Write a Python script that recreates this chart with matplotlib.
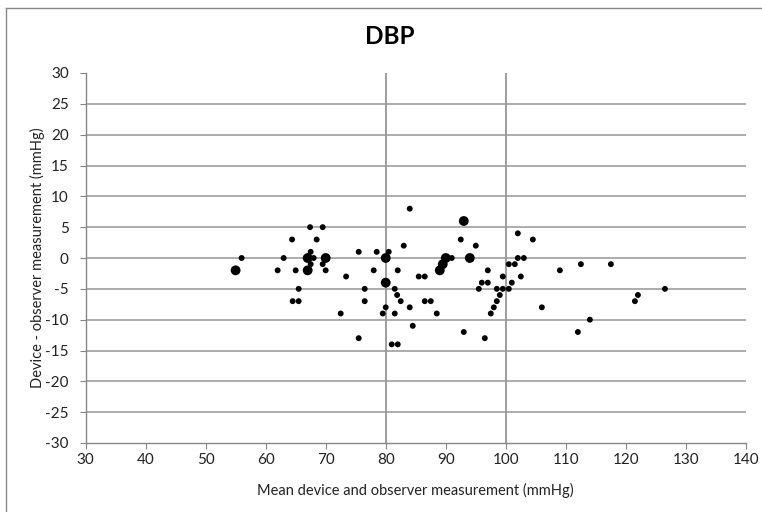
import matplotlib
matplotlib.use("Agg")
import matplotlib.pyplot as plt
from matplotlib.lines import Line2D

# Data: mean measurement (x), difference (y), overlap count (1 = single, 2 = larger dot)
mean_vals = [55, 56, 62, 63, 64.4, 65, 65.5, 64.5, 65.5, 67.4, 69.5, 68.5, 67.5, 67, 68,
             67, 67.5, 69.5, 70, 70, 73.4, 72.5, 75.5, 75.5, 76.5, 76.5, 78, 78.5, 80.5,
             80, 80, 81.5, 81.9, 82.5, 80, 79.5, 81.5, 81, 82, 82, 84, 83, 84, 84.5,
             85.5, 86.5, 86.5, 87.5, 88.5, 89, 89.5, 90, 91, 92.5, 93, 94, 95, 93, 96.5,
             97, 96, 97, 95.5, 97.5, 98, 98.5, 99, 98.5, 99.5, 100.5, 99.5, 101, 100.5,
             101.5, 102, 103, 102.5, 102, 104.5, 106, 109, 112.5, 117.5, 112, 114, 121.5,
             122, 126.5]
diff_vals = [-2, 0, -2, 0, 3, -2, -5, -7, -7, 5, 5, 3, 1, 0, 0,
             -2, -1, -1, 0, -2, -3, -9, -13, 1, -5, -7, -2, 1, 1,
             0, -4, -5, -6, -7, -8, -9, -9, -14, -14, -2, 8, 2, -8, -11,
             -3, -3, -7, -7, -9, -2, -1, 0, 0, 3, 6, 0, 2, -12, -13,
             -2, -4, -4, -5, -9, -8, -7, -6, -5, -5, -5, -3, -4, -1,
             -1, 0, 0, -3, 4, 3, -8, -2, -1, -1, -12, -10, -7,
             -6, -5]
counts = [2, 1, 1, 1, 1, 1, 1, 1, 1, 1, 1, 1, 1, 2, 1,
          2, 1, 1, 2, 1, 1, 1, 1, 1, 1, 1, 1, 1, 1,
          2, 2, 1, 1, 1, 1, 1, 1, 1, 1, 1, 1, 1, 1, 1,
          1, 1, 1, 1, 1, 2, 2, 2, 1, 1, 2, 2, 1, 1, 1,
          1, 1, 1, 1, 1, 1, 1, 1, 1, 1, 1, 1, 1, 1,
          1, 1, 1, 1, 1, 1, 1, 1, 1, 1, 1, 1, 1,
          1, 1]
ref_lines = [80, 100]
x_ticks = list(range(30, 141, 10))
y_ticks = list(range(-30, 31, 5))

plt.rcParams['font.family'] = ['Lato', 'DejaVu Sans']
plt.rcParams['axes.unicode_minus'] = False

fig = plt.figure(figsize=(7.62, 5.12), dpi=100)
ax = fig.add_axes([85.5 / 762, 1 - 443 / 512, (746 - 85.5) / 762, (443 - 73) / 512])

grid_c = '#A6A6A6'
for yv in y_ticks:
    if -30 < yv < 30:
        ax.axhline(yv, color=grid_c, lw=1.3, zorder=1)
for xv in ref_lines:
    ax.axvline(xv, color='#969696', lw=1.3, zorder=1)

sizes = [18 if c == 1 else 50 for c in counts]
ax.scatter(mean_vals, diff_vals, s=sizes, color='black', zorder=3, linewidths=0)

ax.set_xlim(30, 140)
ax.set_ylim(-30, 30)
ax.set_xticks(x_ticks)
ax.set_yticks(y_ticks)
for s in ['top', 'right']:
    ax.spines[s].set_visible(False)
for s in ['left', 'bottom']:
    ax.spines[s].set_color('#868686')
    ax.spines[s].set_linewidth(1.0)
ax.tick_params(direction='out', length=4, color='#868686', labelsize=11,
               labelcolor='#222222')
ax.tick_params(axis='x', pad=3)
ax.tick_params(axis='y', pad=8)

ax.set_xlabel('Mean device and observer measurement (mmHg)', fontsize=10.5,
              color='#222222', va='center')
ax.set_ylabel('Device - observer measurement (mmHg)', fontsize=10.5,
              color='#222222', va='center')
ax.xaxis.set_label_coords((415 - 85.5) / 660.5, (443 - 490) / 370)
ax.yaxis.set_label_coords((37 - 85.5) / 660.5, (443 - 258) / 370)

fig.text(390 / 762, 1 - 36 / 512, 'DBP', ha='center', va='center',
         fontsize=17.5, fontweight='bold', color='black')

# outer chart frame
fig.add_artist(Line2D([6 / 762, 6 / 762], [0, 1 - 8 / 512], transform=fig.transFigure,
                      color='#888888', lw=1.0))
fig.add_artist(Line2D([6 / 762, 1], [1 - 8 / 512, 1 - 8 / 512], transform=fig.transFigure,
                      color='#888888', lw=1.0))

fig.savefig('out.png', dpi=100)
